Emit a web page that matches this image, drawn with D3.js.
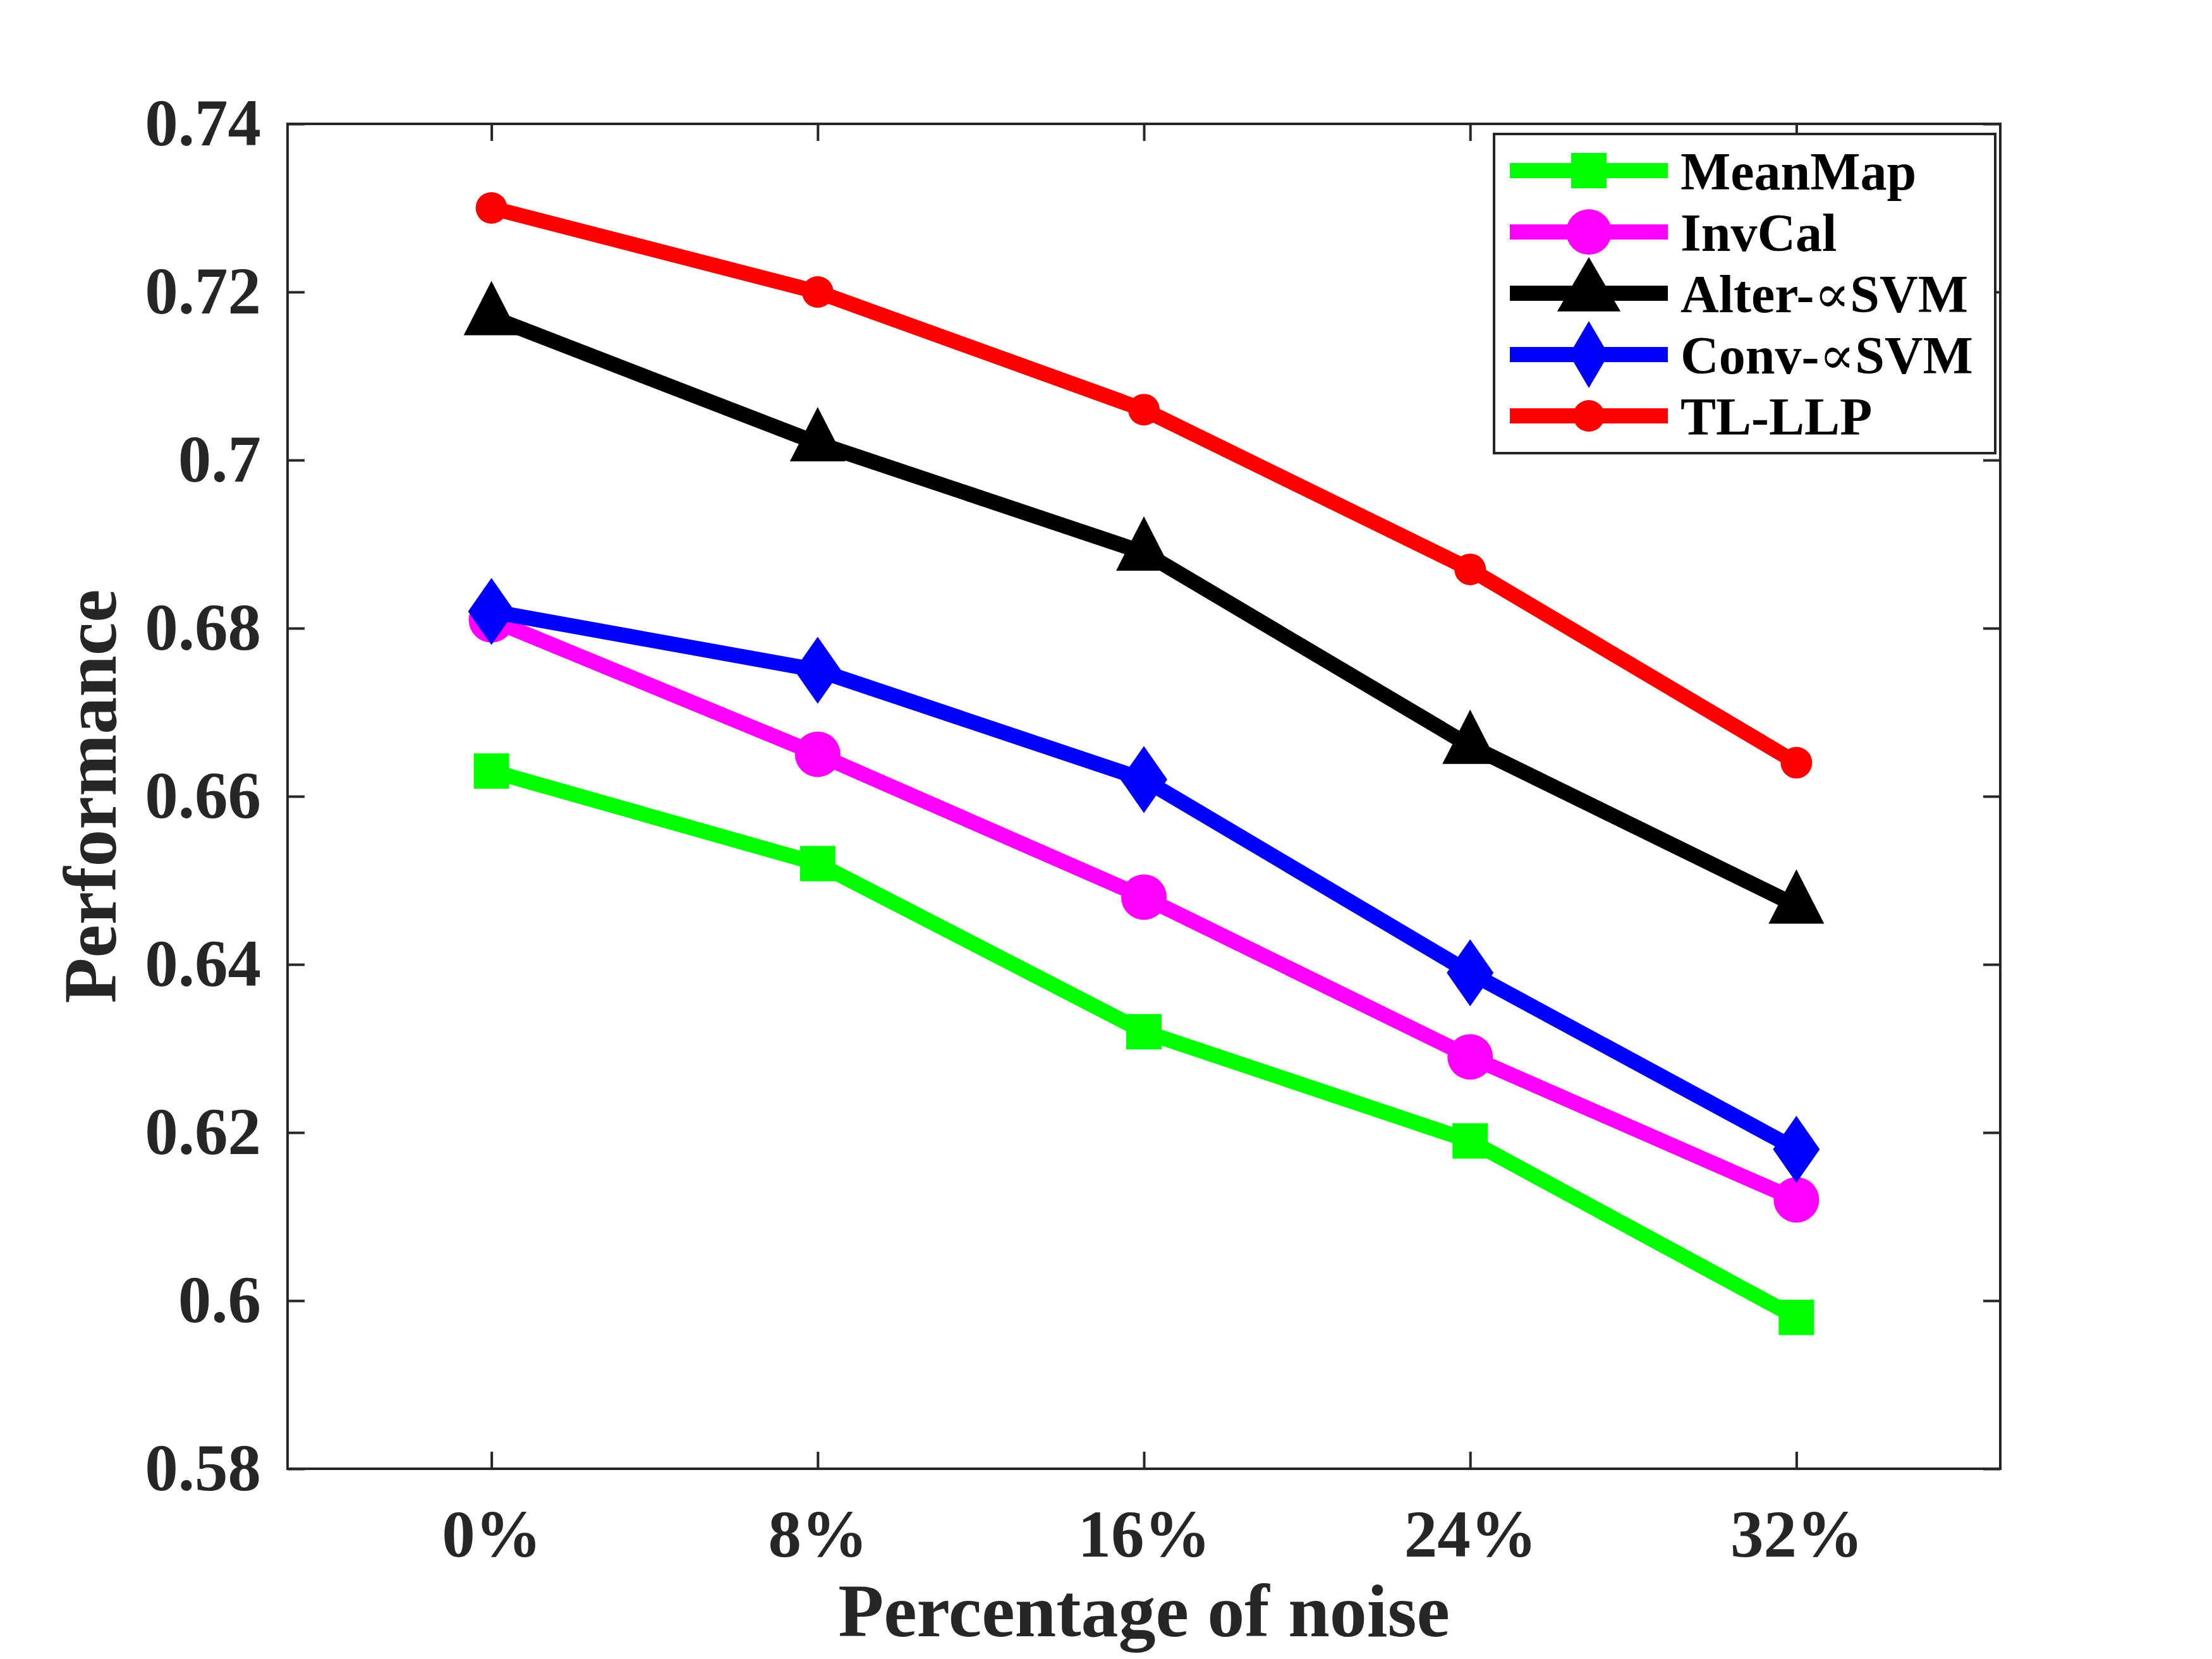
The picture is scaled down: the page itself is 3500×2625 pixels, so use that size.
<!DOCTYPE html>
<html>
<head>
<meta charset="utf-8">
<script src="https://cdn.jsdelivr.net/npm/d3@7"></script>
<style>
  body { margin: 0; background: #fff; }
  svg { display: block; font-family: 'Liberation Serif', 'Times New Roman', serif; font-weight: bold; }
</style>
</head>
<body>
<svg id="chart" width="3500" height="2625"></svg>
<script>
const noiseLevels = [0, 8, 16, 24, 32];
const noiseLabels = ['0%', '8%', '16%', '24%', '32%'];
const yTickValues = [0.58, 0.6, 0.62, 0.64, 0.66, 0.68, 0.7, 0.72, 0.74];

const seriesNames = ['MeanMap', 'InvCal', 'Alter-\u221DSVM', 'Conv-\u221DSVM', 'TL-LLP'];
const meanMap = [0.663, 0.652, 0.632, 0.619, 0.598];
const invCal = [0.681, 0.665, 0.648, 0.629, 0.612];
const alterSVM = [0.717, 0.702, 0.689, 0.666, 0.647];
const convSVM = [0.682, 0.675, 0.662, 0.639, 0.618];
const tlLLP = [0.730, 0.720, 0.706, 0.687, 0.664];
const seriesColors = ['#00ff00', '#ff00ff', '#000000', '#0000ff', '#ff0000'];
const seriesMarkers = ['square', 'circle', 'triangle', 'diamond', 'dot'];

function drawChart(id) {
  const margin = { top: 196, right: 335, bottom: 301, left: 455 };
  const totalWidth = 3500;
  const totalHeight = 2625;
  const width = totalWidth - margin.left - margin.right;
  const height = totalHeight - margin.top - margin.bottom;
  const AXIS_COLOR = '#262626';
  const LINE_WIDTH = 24;
  const TICK = 27;

  const svg = d3.select(id);
  const g = svg.append('g').attr('transform', `translate(${margin.left}, ${margin.top})`);

  const xScale = d3.scaleLinear([-5, 37], [0, width]);
  const yScale = d3.scaleLinear([0.58, 0.74], [height, 0]);

  const allSeries = [meanMap, invCal, alterSVM, convSVM, tlLLP];

  function markerPath(type, k) {
    k = k || 1;
    switch (type) {
      case 'square': {
        const s = 28 * k;
        return `M${-s},${-s}H${s}V${s}H${-s}Z`;
      }
      case 'circle': {
        const r = 36 * k;
        return `M${r},0A${r},${r} 0 1,1 ${-r},0A${r},${r} 0 1,1 ${r},0Z`;
      }
      case 'triangle': {
        const w = 44 * k;
        const h = 86;
        return `M0,${-h * 2 / 3}L${w},${h / 3}L${-w},${h / 3}Z`;
      }
      case 'diamond': {
        const w = 37 * k;
        const h = 53;
        return `M0,${-h}L${w},0L0,${h}L${-w},0Z`;
      }
      default: {
        const r = 25;
        return `M${r},0A${r},${r} 0 1,1 ${-r},0A${r},${r} 0 1,1 ${r},0Z`;
      }
    }
  }

  /* box */
  g.append('rect')
    .attr('width', width)
    .attr('height', height)
    .attr('fill', 'none')
    .attr('stroke', AXIS_COLOR)
    .attr('stroke-width', 4);

  /* left axis */
  const leftAxis = d3.axisLeft(yScale)
    .tickValues(yTickValues)
    .tickSizeInner(-TICK)
    .tickSizeOuter(0)
    .tickPadding(42)
    .tickFormat(d => String(+d.toFixed(2)));
  g.append('g').call(leftAxis);

  /* right axis */
  g.append('g')
    .attr('transform', `translate(${width}, 0)`)
    .call(d3.axisRight(yScale).tickValues(yTickValues).tickSizeInner(-TICK).tickSizeOuter(0).tickFormat(''));

  /* bottom axis */
  const bottomAxis = d3.axisBottom(xScale)
    .tickValues(noiseLevels)
    .tickSizeInner(-TICK)
    .tickSizeOuter(0)
    .tickPadding(64)
    .tickFormat((d, i) => noiseLabels[i]);
  g.append('g').attr('transform', `translate(0, ${height})`).call(bottomAxis);

  /* top axis */
  g.append('g')
    .call(d3.axisTop(xScale).tickValues(noiseLevels).tickSizeInner(-TICK).tickSizeOuter(0).tickFormat(''));

  g.selectAll('.domain').remove();
  g.selectAll('.tick line').attr('stroke', AXIS_COLOR).attr('stroke-width', 4);
  g.selectAll('.tick text')
    .attr('fill', AXIS_COLOR)
    .attr('font-size', 105)
    .attr('font-family', "'Liberation Serif', 'Times New Roman', serif")
    .attr('font-weight', 'bold');

  /* axis labels */
  svg.append('text')
    .attr('x', margin.left + width / 2)
    .attr('y', 2589)
    .attr('text-anchor', 'middle')
    .attr('font-size', 118)
    .attr('fill', AXIS_COLOR)
    .text('Percentage of noise');

  svg.append('text')
    .attr('transform', `translate(183, ${margin.top + height / 2}) rotate(-90)`)
    .attr('text-anchor', 'middle')
    .attr('font-size', 118)
    .attr('fill', AXIS_COLOR)
    .text('Performance');

  /* series */
  const line = d3.line()
    .x((d, i) => xScale(noiseLevels[i]))
    .y(d => yScale(d));

  allSeries.forEach(function (values, i) {
    const sg = g.append('g').attr('class', 'series');
    sg.append('path')
      .attr('d', line(values))
      .attr('fill', 'none')
      .attr('stroke', seriesColors[i])
      .attr('stroke-width', LINE_WIDTH)
      .attr('stroke-linejoin', 'miter');
    sg.selectAll('.marker')
      .data(values)
      .enter()
      .append('path')
      .attr('class', 'marker')
      .attr('transform', (d, j) => `translate(${xScale(noiseLevels[j])}, ${yScale(d)})`)
      .attr('d', markerPath(seriesMarkers[i]))
      .attr('fill', seriesColors[i]);
  });

  /* legend */
  const legend = svg.append('g').attr('transform', 'translate(2364, 212)');
  legend.append('rect')
    .attr('width', 793)
    .attr('height', 505)
    .attr('fill', '#fff')
    .attr('stroke', AXIS_COLOR)
    .attr('stroke-width', 4);

  const items = legend.selectAll('.legend-item')
    .data(seriesNames)
    .enter()
    .append('g')
    .attr('class', 'legend-item')
    .attr('transform', (d, i) => `translate(0, ${58 + i * 97})`);

  items.append('line')
    .attr('x1', 25)
    .attr('x2', 275)
    .attr('stroke', (d, i) => seriesColors[i])
    .attr('stroke-width', LINE_WIDTH);

  items.append('path')
    .attr('transform', 'translate(150, 0)')
    .attr('d', (d, i) => markerPath(seriesMarkers[i], seriesMarkers[i] === 'triangle' ? 1.14 : (seriesMarkers[i] === 'diamond' ? 0.84 : 1)))
    .attr('fill', (d, i) => seriesColors[i]);

  /* legend text: the proportional sign is set in a lighter serif face */
  items.append('text')
    .attr('x', 295)
    .attr('y', 30)
    .attr('font-size', 84)
    .attr('fill', '#000')
    .each(function (d) {
      const t = d3.select(this);
      d.split('\u221D').forEach(function (part, k) {
        if (k > 0) {
          t.append('tspan')
            .attr('font-family', "'DejaVu Serif', serif")
            .attr('font-weight', 'normal')
            .text('\u221D');
        }
        t.append('tspan').text(part);
      });
    });
}

drawChart('#chart');
</script>
</body>
</html>
